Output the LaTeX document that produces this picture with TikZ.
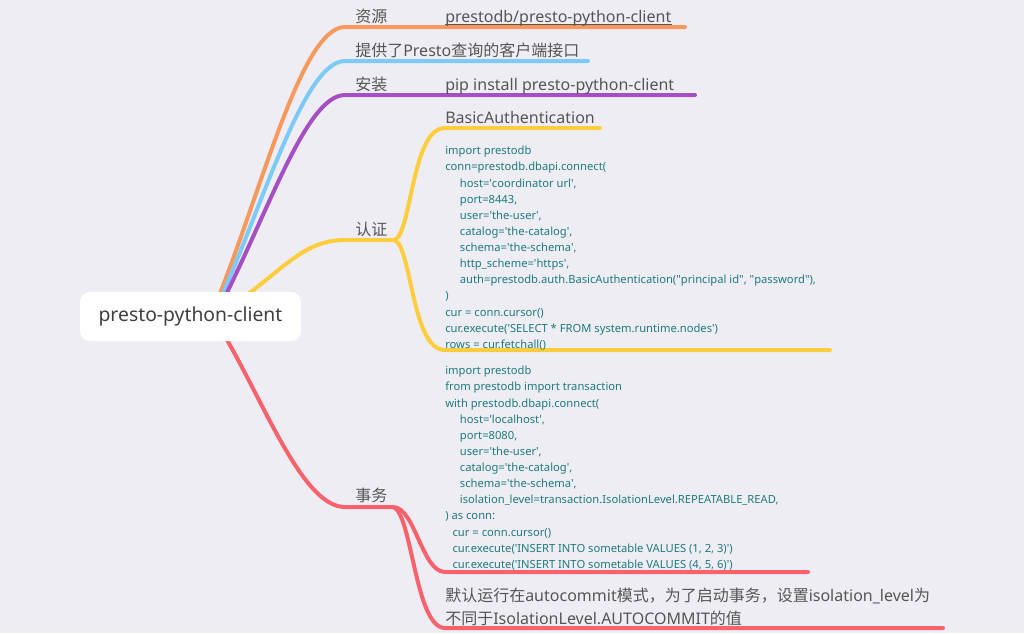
\documentclass[tikz,border=0pt]{standalone}
\usepackage{fontspec}
\setmainfont{Noto Sans}
\newfontfamily\cjk{Noto Sans CJK SC}
\usetikzlibrary{positioning}
\pgfdeclarelayer{paper}
\pgfdeclarelayer{branches}
\pgfsetlayers{paper,branches,main}
\definecolor{paperbg}{HTML}{EEEDF4}
\definecolor{labelgray}{HTML}{555555}
\definecolor{codeteal}{HTML}{1F7A7C}
\definecolor{srcorange}{HTML}{F7995D}
\definecolor{descblue}{HTML}{7DC9F8}
\definecolor{instpurple}{HTML}{A64FC4}
\definecolor{authyellow}{HTML}{FDCD3E}
\definecolor{txred}{HTML}{F8626C}
\newcommand\ind{\hspace*{11pt}}
\newcommand\halfind{\hspace*{5.5pt}}
\newcommand\q{\textquotesingle}
\newcommand\dq{\textquotedbl}
\tikzset{
  branch/.style={line width=3pt, line cap=round},
  topic/.style={anchor=base west, inner sep=0pt, text=labelgray, font=\fontsize{12}{14}\selectfont},
  code/.style={anchor=north west, inner sep=0pt, align=left, text=codeteal, font=\fontsize{8.4}{12.1}\selectfont},
  rootbox/.style={fill=white, rounded corners=7.5pt, minimum width=165.75pt, minimum height=36.75pt, text=black!75, font=\fontsize{14.5}{16}\selectfont},
}
\begin{document}
\begin{tikzpicture}[x=0.75pt, y=-0.75pt]
  \useasboundingbox (0,0) rectangle (1024,633);
  \begin{pgfonlayer}{paper}
    \fill[paperbg] (0,0) rectangle (1024,633);
  \end{pgfonlayer}

  % root
  \node[rootbox] (root) at (190.5,316.5) {presto-python-client};

  % topics
  \node[topic] (srclabel) at (355,22) {\cjk 资源};
  \node[topic] (link) at (445,22) {prestodb/presto-python-client};
  \node[topic] (desc) at (355,56) {{\cjk 提供了}Presto{\cjk 查询的客户端接口}};
  \node[topic] (instlabel) at (355,90) {\cjk 安装};
  \node[topic] (pip) at (445,90) {pip install presto-python-client};
  \node[topic] (authlabel) at (355,235) {\cjk 认证};
  \node[topic] (basic) at (445,123) {BasicAuthentication};
  \node[topic] (txlabel) at (355,501) {\cjk 事务};
  \node[topic, anchor=north west, align=left, font=\fontsize{12}{16.9}\selectfont] (autonote) at (445,588)
    {{\cjk 默认运行在}autocommit{\cjk 模式，为了启动事务，设置}isolation\_level{\cjk 为}\\
     {\cjk 不同于}IsolationLevel.AUTOCOMMIT{\cjk 的值}};

  % code blocks
  \node[code] (authcode) at (445,146) {import prestodb\\
conn=prestodb.dbapi.connect(\\
\ind host=\q coordinator url\q,\\
\ind port=8443,\\
\ind user=\q the-user\q,\\
\ind catalog=\q the-catalog\q,\\
\ind schema=\q the-schema\q,\\
\ind http\_scheme=\q https\q,\\
\ind auth=prestodb.auth.BasicAuthentication(\dq principal id\dq, \dq password\dq),\\
)\\
cur = conn.cursor()\\
cur.execute(\q SELECT * FROM system.runtime.nodes\q)\\
rows = cur.fetchall()};
  \node[code] (txcode) at (445,366) {import prestodb\\
from prestodb import transaction\\
with prestodb.dbapi.connect(\\
\ind host=\q localhost\q,\\
\ind port=8080,\\
\ind user=\q the-user\q,\\
\ind catalog=\q the-catalog\q,\\
\ind schema=\q the-schema\q,\\
\ind isolation\_level=transaction.IsolationLevel.REPEATABLE\_READ,\\
) as conn:\\
\halfind cur = conn.cursor()\\
\halfind cur.execute(\q INSERT INTO sometable VALUES (1, 2, 3)\q)\\
\halfind cur.execute(\q INSERT INTO sometable VALUES (4, 5, 6)\q)};

  % branch points
  \coordinate (src) at (345,27);
  \coordinate (srcend) at (685,27);
  \coordinate (descpt) at (345,61);
  \coordinate (descend) at (588,61);
  \coordinate (inst) at (345,95);
  \coordinate (instend) at (695,95);
  \coordinate (auth) at (345,240);
  \coordinate (authfork) at (395,240);
  \coordinate (basicpt) at (445,128);
  \coordinate (basicend) at (600,128);
  \coordinate (authcodept) at (445,350);
  \coordinate (authcodeend) at (830,350);
  \coordinate (tx) at (345,507);
  \coordinate (txfork) at (393,507);
  \coordinate (txcodept) at (445,572);
  \coordinate (txcodeend) at (808,572);
  \coordinate (notept) at (445,628);
  \coordinate (noteend) at (943,628);

  \draw[labelgray, line width=0.6pt] ([yshift=-2pt]link.base west) -- ([yshift=-2pt]link.base east);

  \begin{pgfonlayer}{branches}
    \draw[branch, srcorange] (210,318) .. controls (260,200) and (300,27) .. (src) -- (srcend);
    \draw[branch, descblue] (212,318) .. controls (262,210) and (303,61) .. (descpt) -- (descend);
    \draw[branch, instpurple] (214,318) .. controls (266,220) and (305,95) .. (inst) -- (instend);
    \draw[branch, authyellow] (225,310) .. controls (280,275) and (300,240) .. (auth) -- (authfork);
    \draw[branch, authyellow] (authfork) .. controls (412,230) and (412,128) .. (basicpt) -- (basicend);
    \draw[branch, authyellow] (authfork) .. controls (412,250) and (412,350) .. (authcodept) -- (authcodeend);
    \draw[branch, txred] (215,320) .. controls (260,390) and (300,507) .. (tx) -- (txfork);
    \draw[branch, txred] (txfork) .. controls (415,507) and (422,572) .. (txcodept) -- (txcodeend);
    \draw[branch, txred] (txfork) .. controls (412,512) and (415,628) .. (notept) -- (noteend);
  \end{pgfonlayer}
\end{tikzpicture}
\end{document}
